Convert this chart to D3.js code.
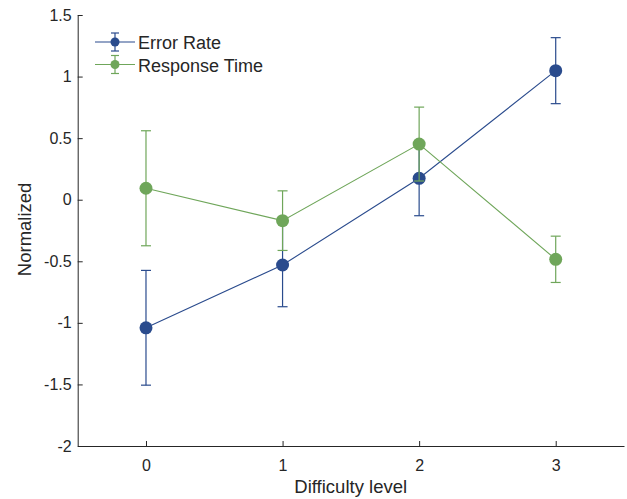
<!DOCTYPE html>
<html><head><meta charset="utf-8">
<script src="https://cdn.jsdelivr.net/npm/d3@7"></script>
<style>body{margin:0;background:#fff}svg{display:block}text{font-family:"Liberation Sans",Arial,Helvetica,sans-serif;fill:#262626}</style>
</head><body><svg id="c" width="627" height="499"></svg>
<script>
const levels = [0, 1, 2, 3];
const seriesNames = ["Error Rate", "Response Time"];
const errorRate = [-1.04, -0.53, 0.174, 1.048];
const errorRateErr = [0.466, 0.339, 0.304, 0.268];
const responseTime = [0.093, -0.17, 0.452, -0.484];
const responseTimeErr = [0.467, 0.242, 0.30, 0.188];
const yTicks = [-2, -1.5, -1, -0.5, 0, 0.5, 1, 1.5];
const xTicks = [0, 1, 2, 3];
const colors = ["#2a4b8d", "#6fa65a"];

const svg = d3.select("#c");
const x = d3.scaleLinear().domain([-0.5, 3.5]).range([77.7, 624]);
const y = d3.scaleLinear().domain([-2, 1.5]).range([446, 15]);
const axisColor = "#262626";

// axes
const gx = svg.append("g").attr("transform", `translate(0,${y(-2)})`)
  .call(d3.axisBottom(x).tickValues(xTicks).tickSizeInner(-5).tickSizeOuter(0).tickPadding(13.5).tickFormat(d3.format("d")));
const gy = svg.append("g").attr("transform", `translate(${x(-0.5)},0)`)
  .call(d3.axisLeft(y).tickValues(yTicks).tickSizeInner(-5).tickSizeOuter(0).tickPadding(6).tickFormat(d => String(d)));
[gx, gy].forEach(g => {
  g.select(".domain").attr("stroke", axisColor).attr("stroke-width", 1);
  g.selectAll(".tick line").attr("stroke", axisColor);
  g.selectAll(".tick text").attr("font-size", 16).attr("fill", axisColor)
    .style("font-family", '"Liberation Sans",Arial,sans-serif');
});

svg.append("text").attr("x", 350.7).attr("y", 493).attr("text-anchor", "middle")
  .attr("font-size", 18.5).text("Difficulty level");
svg.append("text").attr("transform", "translate(30.7,229.4) rotate(-90)").attr("text-anchor", "middle")
  .attr("font-size", 18.5).text("Normalized");

const series = [
  {vals: errorRate, errs: errorRateErr, color: colors[0]},
  {vals: responseTime, errs: responseTimeErr, color: colors[1]}
];
const capW = 5;
series.forEach(s => {
  const g = svg.append("g");
  g.append("path").datum(levels.map((l, i) => [l, s.vals[i]]))
    .attr("d", d3.line().x(d => x(d[0])).y(d => y(d[1])))
    .attr("fill", "none").attr("stroke", s.color).attr("stroke-width", 1.1);
  levels.forEach((l, i) => {
    const cx = x(l), top = y(s.vals[i] + s.errs[i]), bot = y(s.vals[i] - s.errs[i]);
    g.append("line").attr("x1", cx).attr("x2", cx).attr("y1", top).attr("y2", bot)
      .attr("stroke", s.color).attr("stroke-width", 1.2);
    [top, bot].forEach(yy => g.append("line").attr("x1", cx - capW).attr("x2", cx + capW)
      .attr("y1", yy).attr("y2", yy).attr("stroke", s.color).attr("stroke-width", 1.2));
    g.append("circle").attr("cx", cx).attr("cy", y(s.vals[i])).attr("r", 6.5).attr("fill", s.color);
  });
});

// legend
const leg = svg.append("g");
seriesNames.forEach((name, i) => {
  const cy = 42 + i * 22.5;
  const c = colors[i];
  leg.append("line").attr("x1", 95).attr("x2", 135).attr("y1", cy).attr("y2", cy).attr("stroke", c).attr("stroke-width", 1.1);
  leg.append("line").attr("x1", 115).attr("x2", 115).attr("y1", cy - 9).attr("y2", cy + 9).attr("stroke", c).attr("stroke-width", 1.2);
  [cy - 9, cy + 9].forEach(yy => leg.append("line").attr("x1", 111).attr("x2", 119).attr("y1", yy).attr("y2", yy).attr("stroke", c).attr("stroke-width", 1.2));
  leg.append("circle").attr("cx", 115).attr("cy", cy).attr("r", 4.5).attr("fill", c);
  leg.append("text").attr("x", 138).attr("y", cy + 7).attr("font-size", 18).text(name);
});
</script></body></html>
